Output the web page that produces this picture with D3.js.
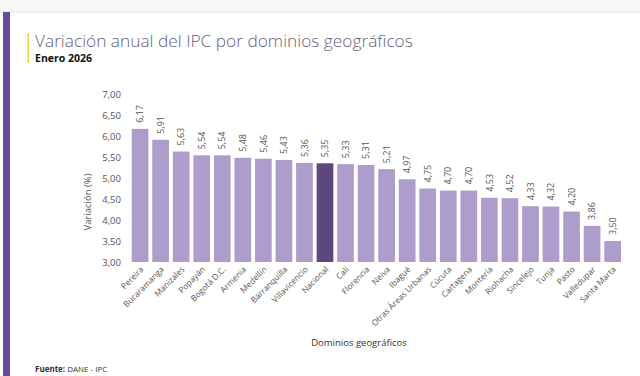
<!DOCTYPE html>
<html>
<head>
<meta charset="utf-8">
<script src="https://cdn.jsdelivr.net/npm/d3@7"></script>
<style>
  html, body { margin: 0; padding: 0; background: #fff; }
  svg { display: block; font-family: "Open Sans", "Noto Sans", sans-serif; }
</style>
</head>
<body>
<svg id="chart" width="640" height="376"></svg>
<script>
const categories = ["Pereira","Bucaramanga","Manizales","Popayán","Bogotá D.C.","Armenia","Medellín","Barranquilla","Villavicencio","Nacional","Cali","Florencia","Neiva","Ibagué","Otras Áreas Urbanas","Cúcuta","Cartagena","Montería","Riohacha","Sincelejo","Tunja","Pasto","Valledupar","Santa Marta"];
const values = [6.17,5.91,5.63,5.54,5.54,5.48,5.46,5.43,5.36,5.35,5.33,5.31,5.21,4.97,4.75,4.70,4.70,4.53,4.52,4.33,4.32,4.20,3.86,3.50];
const highlight = ["Nacional"];
const yTicks = [3.0,3.5,4.0,4.5,5.0,5.5,6.0,6.5,7.0];
const titleText = "Variación anual del IPC por dominios geográficos";
const subtitleText = "Enero 2026";
const xAxisTitle = "Dominios geográficos";
const yAxisTitle = "Variación (%)";

const svg = d3.select("#chart");
const fmt = v => d3.format(".2f")(v).replace(".", ",");

// frame decorations
svg.append("rect").attr("x",0).attr("y",0).attr("width",640).attr("height",12).attr("fill","#f8f8f8");
svg.append("line").attr("x1",0).attr("x2",640).attr("y1",12).attr("y2",12).attr("stroke","#e4e4e4").attr("stroke-width",1);
svg.append("rect").attr("x",3).attr("y",12).attr("width",7).attr("height",364).attr("fill","#6b4a9e");
svg.append("rect").attr("x",27.5).attr("y",33).attr("width",1.5).attr("height",30).attr("fill","#f2cf4a");

svg.append("text").attr("x",35).attr("y",46.5).attr("font-size",17.3).attr("font-weight",300)
  .attr("fill","#6a6179").text(titleText);
svg.append("text").attr("x",35).attr("y",62).attr("font-size",10.5).attr("font-weight",700)
  .attr("fill","#111").text(subtitleText);

const x = d3.scaleBand().domain(categories).range([129.8, 622.9]).paddingInner(0.187).paddingOuter(0.0935);
const y = d3.scaleLinear().domain([3,7]).range([262,94]);

// y axis labels
const yAxis = d3.axisLeft(y).tickValues(yTicks).tickFormat(fmt).tickSize(0).tickPadding(0);
const gy = svg.append("g").attr("transform","translate(121,0)").call(yAxis);
gy.select(".domain").remove();
gy.selectAll("text").attr("font-size",9.5).attr("fill","#555").attr("font-family","Open Sans, sans-serif");

// bars
const data = categories.map((c,i)=>({c, v: values[i]}));
svg.append("g").selectAll("rect").data(data).join("rect")
  .attr("x", d=>x(d.c)).attr("width", x.bandwidth())
  .attr("y", d=>y(d.v)).attr("height", d=>y(3)-y(d.v))
  .attr("fill", d=> highlight.includes(d.c) ? "#5e477c" : "#ae9dca");

// value labels
svg.append("g").selectAll("text").data(data).join("text")
  .attr("transform", d=>`translate(${x(d.c)+x.bandwidth()/2+3.2},${y(d.v)-6}) rotate(-90)`)
  .attr("font-size",9).attr("fill","#555").attr("text-anchor","start")
  .text(d=>fmt(d.v));

// x axis labels
const xAxis = d3.axisBottom(x).tickSize(0).tickPadding(0);
const gx = svg.append("g").attr("transform","translate(0,266)").call(xAxis);
gx.select(".domain").remove();
gx.selectAll("text")
  .attr("font-size",8.3).attr("fill","#555").attr("font-family","Open Sans, sans-serif")
  .attr("text-anchor","end").attr("dy",0)
  .attr("transform","translate(4,4) rotate(-45)");

// axis titles
svg.append("text").attr("x",359).attr("y",346).attr("text-anchor","middle")
  .attr("font-size",9.5).attr("fill","#333").text(xAxisTitle);
svg.append("text").attr("transform","translate(91,202) rotate(-90)").attr("text-anchor","middle")
  .attr("font-size",9.5).attr("fill","#555").text(yAxisTitle);

// footer
const f = svg.append("text").attr("x",35).attr("y",372).attr("font-size",8).attr("fill","#333");
f.append("tspan").attr("font-weight",700).text("Fuente:");
f.append("tspan").text(" DANE - IPC");
</script>
</body>
</html>
